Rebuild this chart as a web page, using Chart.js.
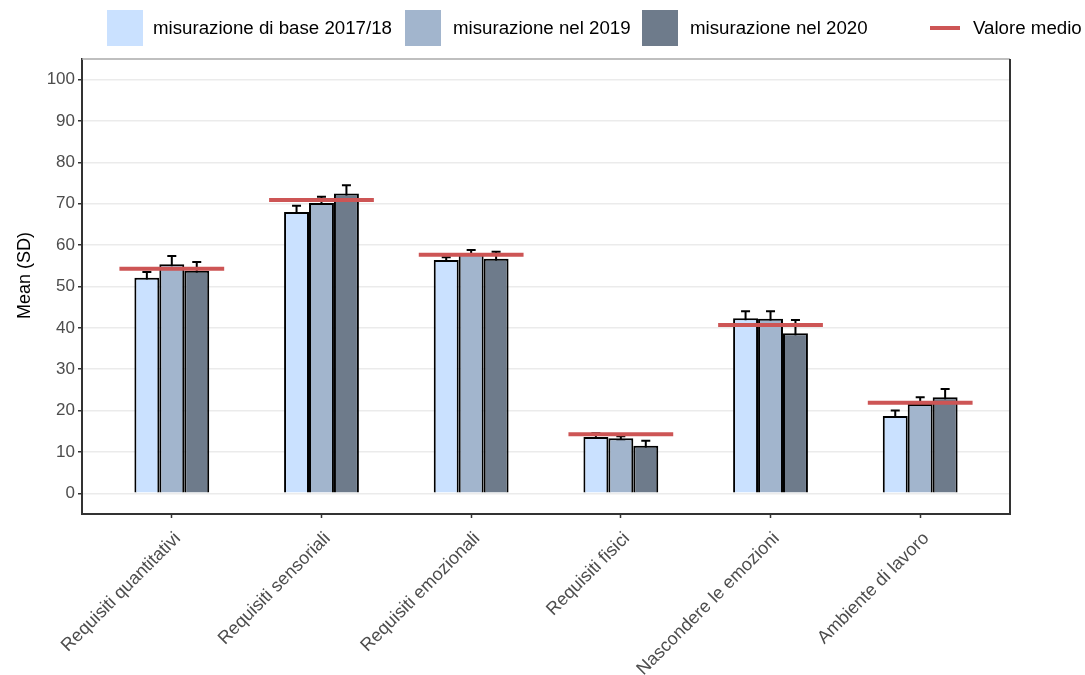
<!DOCTYPE html>
<html>
<head>
<meta charset="utf-8">
<script src="https://cdn.jsdelivr.net/npm/chart.js@4/dist/chart.umd.min.js"></script>
<style>
  html, body { margin: 0; padding: 0; background: #fff; }
  #wrap { position: relative; width: 1085px; height: 675px; font-family: "Liberation Sans", Arial, sans-serif; }
  #chart { position: absolute; left: 0; top: 0; }
  .leg { position: absolute; font-size: 18.7px; color: #000; white-space: nowrap; line-height: 20px; }
  .key { position: absolute; width: 36px; height: 36px; top: 10px; }
  .lkey { position: absolute; width: 30px; height: 4px; top: 26px; background: #CD5555; }
</style>
</head>
<body>
<div id="wrap">
  <canvas id="chart" width="1085" height="675"></canvas>
  <div class="key" style="left:107px;background:#CAE1FF"></div>
  <div class="leg" style="left:153px;top:18px">misurazione di base 2017/18</div>
  <div class="key" style="left:405px;background:#A2B5CD"></div>
  <div class="leg" style="left:453px;top:18px">misurazione nel 2019</div>
  <div class="key" style="left:642px;background:#6E7B8B"></div>
  <div class="leg" style="left:690px;top:18px">misurazione nel 2020</div>
  <div class="lkey" style="left:930px"></div>
  <div class="leg" style="left:973px;top:18px">Valore medio</div>
</div>
<script>
const categories = ["Requisiti quantitativi", "Requisiti sensoriali", "Requisiti emozionali",
                    "Requisiti fisici", "Nascondere le emozioni", "Ambiente di lavoro"];
const seriesNames = ["misurazione di base 2017/18", "misurazione nel 2019", "misurazione nel 2020"];
const base2017 = [52.1, 68.0, 56.4, 13.6, 42.3, 18.7];
const y2019    = [55.4, 70.2, 57.9, 13.3, 42.2, 21.6];
const y2020    = [53.8, 72.5, 56.7, 11.5, 38.7, 23.2];
const err2017  = [1.4, 1.5, 0.7, 0.9, 1.7, 1.3];
const err2019  = [2.0, 1.5, 0.9, 0.5, 1.8, 1.6];
const err2020  = [2.1, 2.0, 1.7, 1.2, 3.2, 2.0];
const meanValues = [54.3, 70.9, 57.7, 14.3, 40.7, 21.9];
const yTicks = [0, 10, 20, 30, 40, 50, 60, 70, 80, 90, 100];
const yTitle = "Mean (SD)";

const colors = ["#CAE1FF", "#A2B5CD", "#6E7B8B"];
const seriesVals = [base2017, y2019, y2020];
const seriesErr = [err2017, err2019, err2020];

const FONT = "'Liberation Sans', Arial, sans-serif";

const barSets = seriesVals.map((vals, s) => ({
  type: 'bar',
  label: seriesNames[s],
  data: vals.map((v, i) => ({ x: i + 1, y: v })),
  backgroundColor: colors[s],
  borderColor: '#000000',
  borderWidth: 2,
  categoryPercentage: 0.5,
  barPercentage: 1.0,
  order: 2
}));

const meanData = [];
meanValues.forEach((m, i) => {
  meanData.push({ x: i + 1 - 0.35, y: m });
  meanData.push({ x: i + 1 + 0.35, y: m });
  meanData.push({ x: i + 1.5, y: null });
});

const meanSet = {
  type: 'line',
  label: 'Valore medio',
  data: meanData,
  borderColor: '#CD5555',
  borderWidth: 4,
  pointRadius: 0,
  spanGaps: false,
  order: 0
};

const errorPlugin = {
  id: 'errbars',
  beforeDatasetsDraw(chart) {
    const ctx = chart.ctx;
    const ys = chart.scales.y;
    ctx.save();
    ctx.strokeStyle = '#000';
    ctx.lineWidth = 2;
    for (let s = 0; s < 3; s++) {
      const meta = chart.getDatasetMeta(s);
      meta.data.forEach((bar, i) => {
        const v = seriesVals[s][i], e = seriesErr[s][i];
        const yt = ys.getPixelForValue(v + e);
        const yb = ys.getPixelForValue(v - e);
        const x = bar.x;
        ctx.beginPath();
        ctx.moveTo(x, yb); ctx.lineTo(x, yt);
        ctx.moveTo(x - 4.5, yt); ctx.lineTo(x + 4.5, yt);
        ctx.moveTo(x - 4.5, yb); ctx.lineTo(x + 4.5, yb);
        ctx.stroke();
      });
    }
    ctx.restore();
  }
};

const framePlugin = {
  id: 'frame',
  afterDraw(chart) {
    const a = chart.chartArea, ctx = chart.ctx;
    ctx.save();
    ctx.lineWidth = 1.3;
    ctx.strokeStyle = '#AAAAAA';
    ctx.beginPath(); ctx.moveTo(a.left, a.top); ctx.lineTo(a.right, a.top); ctx.stroke();
    ctx.lineWidth = 2;
    ctx.strokeStyle = '#333333';
    ctx.beginPath(); ctx.moveTo(a.right, a.top); ctx.lineTo(a.right, a.bottom + 1); ctx.stroke();
    // y axis title
    ctx.translate(25, (a.top + a.bottom) / 2 - 11);
    ctx.rotate(-Math.PI / 2);
    ctx.fillStyle = '#000';
    ctx.font = "18px " + FONT;
    ctx.textAlign = 'center';
    ctx.textBaseline = 'middle';
    ctx.fillText(yTitle, 0, 0);
    ctx.restore();
  }
};

new Chart(document.getElementById('chart'), {
  data: { datasets: [...barSets, meanSet] },
  plugins: [errorPlugin, framePlugin],
  options: {
    responsive: false,
    animation: false,
    layout: { padding: { left: 10, right: 75, top: 59, bottom: 0 } },
    plugins: { legend: { display: false }, tooltip: { enabled: false } },
    scales: {
      x: {
        type: 'linear',
        min: 0.4,
        max: 6.6,
        offset: false,
        afterBuildTicks(scale) { scale.ticks = categories.map((c, i) => ({ value: i + 1 })); },
        afterFit(scale) { scale.height = 161; },
        ticks: {
          autoSkip: false,
          minRotation: 45,
          maxRotation: 45,
          color: '#4D4D4D',
          font: { family: FONT, size: 18 },
          padding: 10,
          labelOffset: 6,
          callback: (v) => categories[Math.round(v) - 1]
        },
        grid: { offset: false, drawOnChartArea: false, drawTicks: true, tickLength: 4, tickColor: '#333333', tickWidth: 1.5 },
        border: { display: true, color: '#333333', width: 2 }
      },
      y: {
        min: -5,
        max: 105,
        afterBuildTicks(scale) { scale.ticks = yTicks.map(v => ({ value: v })); },
        afterFit(scale) { scale.width = 72; },
        ticks: {
          color: '#4D4D4D',
          font: { family: FONT, size: 17 },
          padding: 3
        },
        grid: { color: '#EBEBEB', lineWidth: 1.5, tickLength: 4, tickColor: '#333333', tickWidth: 1.5 },
        border: { display: true, color: '#333333', width: 2 },
        title: { display: false }
      }
    }
  }
});
</script>
</body>
</html>
